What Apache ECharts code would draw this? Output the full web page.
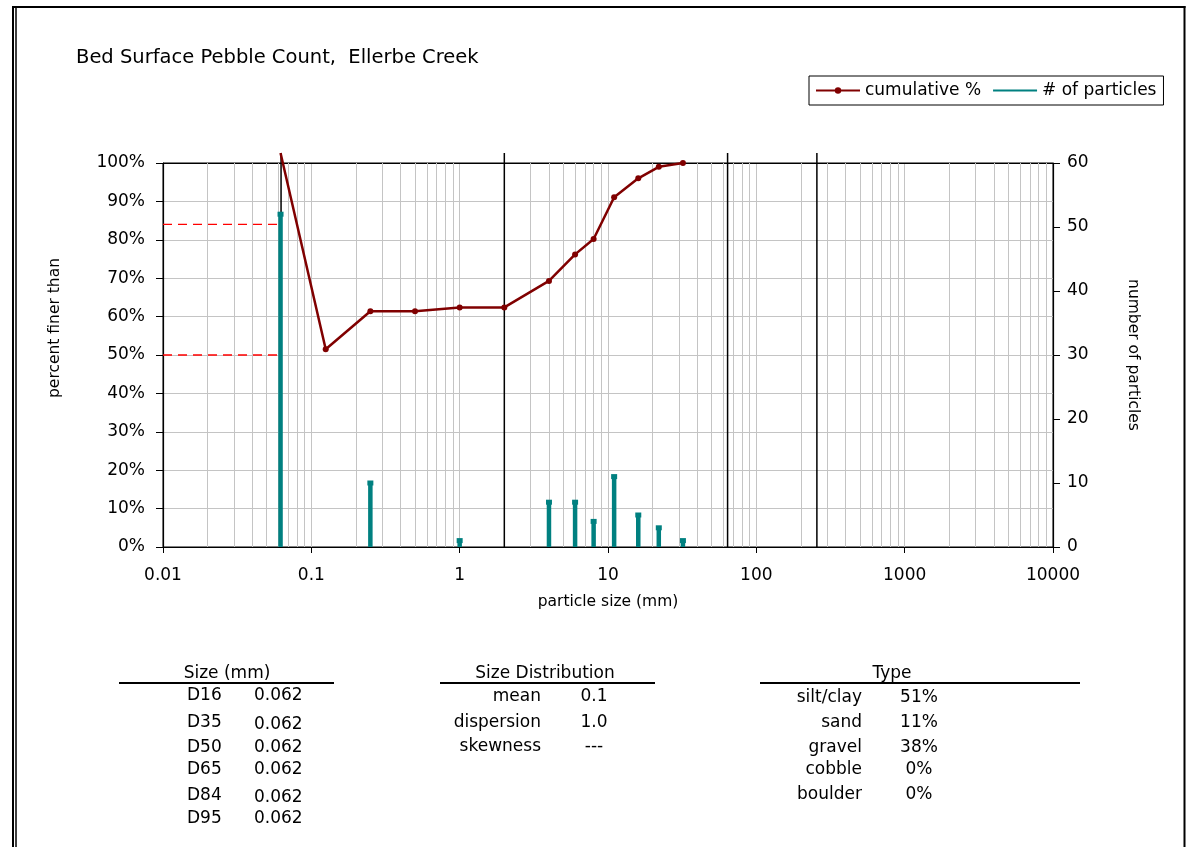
<!DOCTYPE html>
<html>
<head>
<meta charset="utf-8">
<title>Bed Surface Pebble Count, Ellerbe Creek</title>
<script src="https://cdn.jsdelivr.net/npm/echarts@6.0.0/dist/echarts.min.js"></script>
<style>
  html, body { margin: 0; padding: 0; background: #fff; }
  #chart { width: 1187px; height: 847px; }
</style>
</head>
<body>
<div id="chart"></div>
<script>
// Pebble count data (particle size in mm)
const sizeClasses = [0.062, 0.125, 0.25, 0.5, 1, 2, 4, 6, 8, 11, 16, 22, 32];
const cumulativePct = [102.6, 51.5, 61.4, 61.4, 62.4, 62.4, 69.3, 76.2, 80.2, 91.1, 96.0, 99.0, 100];
const countSizes = [0.062, 0.25, 1, 4, 6, 8, 11, 16, 22, 32];
const particleCounts = [52, 10, 1, 7, 7, 4, 11, 5, 3, 1];

// Wentworth class boundaries (silt/sand, sand/gravel, gravel/cobble, cobble/boulder)
const classBoundaries = [0.0625, 2, 64, 256];
const boundaryTop = 102.6;

// D50 / D84 reference lines
const refPercents = [50, 84];
const refSizes = [0.062, 0.062];

// Axis tick labels
const xTickLabels = ['0.01', '0.1', '1', '10', '100', '1000', '10000'];

// Summary tables
const sizeLabels = ['D16', 'D35', 'D50', 'D65', 'D84', 'D95'];
const sizeValues = ['0.062', '0.062', '0.062', '0.062', '0.062', '0.062'];
const distLabels = ['mean', 'dispersion', 'skewness'];
const distValues = ['0.1', '1.0', '---'];
const typeLabels = ['silt/clay', 'sand', 'gravel', 'cobble', 'boulder'];
const typeValues = ['51%', '11%', '38%', '0%', '0%'];

const FONT = 'DejaVu Sans';
const X_MIN = 0.01, X_MAX = 10000;

// Build series data
const cumulativeData = sizeClasses.map((s, i) => i === 0
  ? { value: [s, cumulativePct[i]], symbol: 'none' }
  : [s, cumulativePct[i]]);

const countData = [];
countSizes.forEach((s, i) => {
  countData.push({ value: [s, 0], symbol: 'none' });
  countData.push({ value: [s, particleCounts[i]], symbol: 'rect', symbolSize: [6, 5] });
  countData.push({ value: [s, '-'], symbol: 'none' });
});

const boundaryData = [];
classBoundaries.forEach(b => {
  boundaryData.push([b, 0], [b, boundaryTop], [b, '-']);
});

const refData = [];
refPercents.forEach((p, i) => {
  refData.push([X_MIN, p], [refSizes[i], p], [refSizes[i], '-']);
});

// Minor logarithmic grid lines (2..9 in each decade)
const minorGrid = [];
for (let e = -2; e <= 3; e++) {
  for (let k = 2; k <= 9; k++) minorGrid.push({ xAxis: k * Math.pow(10, e) });
}

// Table text helpers
const graphics = [];
function txt(text, x, y, align, size) {
  graphics.push({
    type: 'text', x: x, y: y + 2, silent: true,
    style: { text: text, fontFamily: FONT, fontSize: size || 17, fill: '#000',
             align: align || 'left', verticalAlign: 'middle' }
  });
}
function hline(x1, x2, y, w) {
  graphics.push({ type: 'line', silent: true,
    shape: { x1: x1, y1: y, x2: x2, y2: y }, style: { stroke: '#000', lineWidth: w } });
}
function vline(x, y1, y2, w) {
  graphics.push({ type: 'line', silent: true,
    shape: { x1: x, y1: y1, x2: x, y2: y2 }, style: { stroke: '#000', lineWidth: w } });
}

// Page frame
hline(12, 1185.5, 7, 2);
vline(13, 6, 847, 2);
vline(16, 8, 847, 1.5);
vline(1184.5, 6, 847, 2);

// Size (mm) table
txt('Size (mm)', 227, 672, 'center');
hline(119, 334, 683, 2);
const sizeRowY = [694, 721, 746, 768, 794, 817];
sizeLabels.forEach((l, i) => {
  txt(l, 187, sizeRowY[i], 'left');
  txt(sizeValues[i], 254, sizeRowY[i] + (i === 1 || i === 4 ? 1.5 : 0), 'left');
});

// Size Distribution table
txt('Size Distribution', 545, 672, 'center');
hline(440, 655, 683, 2);
const distRowY = [695, 721, 745];
distLabels.forEach((l, i) => {
  txt(l, 541, distRowY[i], 'right');
  txt(distValues[i], 594, distRowY[i], 'center');
});

// Type table
txt('Type', 892, 672, 'center');
hline(760, 1080, 683, 2);
const typeRowY = [696, 721, 746, 768, 793];
typeLabels.forEach((l, i) => {
  txt(l, 862, typeRowY[i], 'right');
  txt(typeValues[i], 919, typeRowY[i], 'center');
});

const chart = echarts.init(document.getElementById('chart'), null, { renderer: 'canvas' });

const axisLineStyle = { color: '#000', width: 1.2 };

chart.setOption({
  backgroundColor: '#fff',
  animation: false,
  title: {
    text: 'Bed Surface Pebble Count,  Ellerbe Creek',
    left: 76, top: 48, padding: 0,
    textStyle: { fontFamily: FONT, fontSize: 19.5, fontWeight: 'normal', color: '#000' }
  },
  legend: {
    left: 809, top: 76,
    padding: [6, 7, 6, 6],
    itemWidth: 44, itemHeight: 8, itemGap: 11,
    borderColor: '#000', borderWidth: 1, borderRadius: 0,
    textStyle: { fontFamily: FONT, fontSize: 17, color: '#000' },
    data: [
      { name: 'cumulative %' },
      { name: '# of particles', lineStyle: { width: 2 }, itemStyle: { opacity: 0 } }
    ]
  },
  grid: {
    left: 163, right: 134, top: 163, bottom: 300,
    show: true, borderColor: '#000', borderWidth: 1, backgroundColor: '#fff'
  },
  xAxis: [
    {
      type: 'log', logBase: 10, min: X_MIN, max: X_MAX, splitNumber: 6, position: 'bottom',
      name: 'particle size (mm)', nameLocation: 'middle', nameGap: 47,
      nameTextStyle: { fontFamily: FONT, fontSize: 15.5, color: '#000' },
      axisLine: { lineStyle: axisLineStyle },
      axisTick: { show: true, inside: false, length: 6, lineStyle: { color: '#000' } },
      axisLabel: {
        fontFamily: FONT, fontSize: 17, color: '#000', margin: 20,
        formatter: v => xTickLabels[Math.round(Math.log10(v)) + 2]
      },
      splitLine: { show: true, lineStyle: { color: '#c4c4c4', width: 1 } }
    },
    {
      // plain top edge of the plot frame
      type: 'log', logBase: 10, min: X_MIN, max: X_MAX, position: 'top',
      axisLine: { show: true, onZero: false, lineStyle: axisLineStyle },
      axisTick: { show: false }, axisLabel: { show: false }, splitLine: { show: false }
    }
  ],
  yAxis: [
    {
      type: 'value', min: 0, max: 100, interval: 10, position: 'left',
      name: 'percent finer than', nameLocation: 'middle', nameGap: 100, nameRotate: 90,
      nameTextStyle: { fontFamily: FONT, fontSize: 15.5, color: '#000', padding: [0, 0, 0, 54] },
      axisLine: { show: true, lineStyle: axisLineStyle },
      axisTick: { show: true, inside: false, length: 7, lineStyle: { color: '#000' } },
      axisLabel: { fontFamily: FONT, fontSize: 17, color: '#000', margin: 18,
                   padding: [7, 0, 0, 0], formatter: '{value}%' },
      splitLine: { show: true, lineStyle: { color: '#c4c4c4', width: 1 } }
    },
    {
      type: 'value', min: 0, max: 60, interval: 10, position: 'right',
      name: 'number of particles', nameLocation: 'middle', nameGap: 72, nameRotate: -90,
      nameTextStyle: { fontFamily: FONT, fontSize: 15.5, color: '#000' },
      axisLine: { show: true, lineStyle: axisLineStyle },
      axisTick: { show: true, inside: false, length: 7, lineStyle: { color: '#000' } },
      axisLabel: { fontFamily: FONT, fontSize: 17, color: '#000', margin: 14, padding: [7, 0, 0, 0] },
      splitLine: { show: false }
    }
  ],
  series: [
    {
      name: 'class boundaries', type: 'line', yAxisIndex: 0, z: 2,
      data: boundaryData, symbol: 'none', clip: false, connectNulls: false, silent: true,
      lineStyle: { color: '#000', width: 1.5 },
      markLine: {
        silent: true, symbol: 'none', z: 1, animation: false,
        label: { show: false },
        lineStyle: { color: '#c4c4c4', width: 1, type: 'solid' },
        data: minorGrid
      }
    },
    {
      name: 'D50 / D84', type: 'line', yAxisIndex: 0, z: 2,
      data: refData, symbol: 'none', connectNulls: false, silent: true,
      lineStyle: { color: '#ff0000', width: 1.3, type: [9, 6] }
    },
    {
      name: '# of particles', type: 'line', yAxisIndex: 1, z: 3,
      data: countData, symbol: 'none', connectNulls: false,
      itemStyle: { color: '#008080' },
      lineStyle: { color: '#008080', width: 4.5, cap: 'butt' }
    },
    {
      name: 'cumulative %', type: 'line', yAxisIndex: 0, z: 4,
      data: cumulativeData, symbol: 'circle', symbolSize: 6, clip: false,
      itemStyle: { color: '#800000' },
      lineStyle: { color: '#800000', width: 2.5 }
    }
  ],
  graphic: graphics
});
</script>
</body>
</html>
